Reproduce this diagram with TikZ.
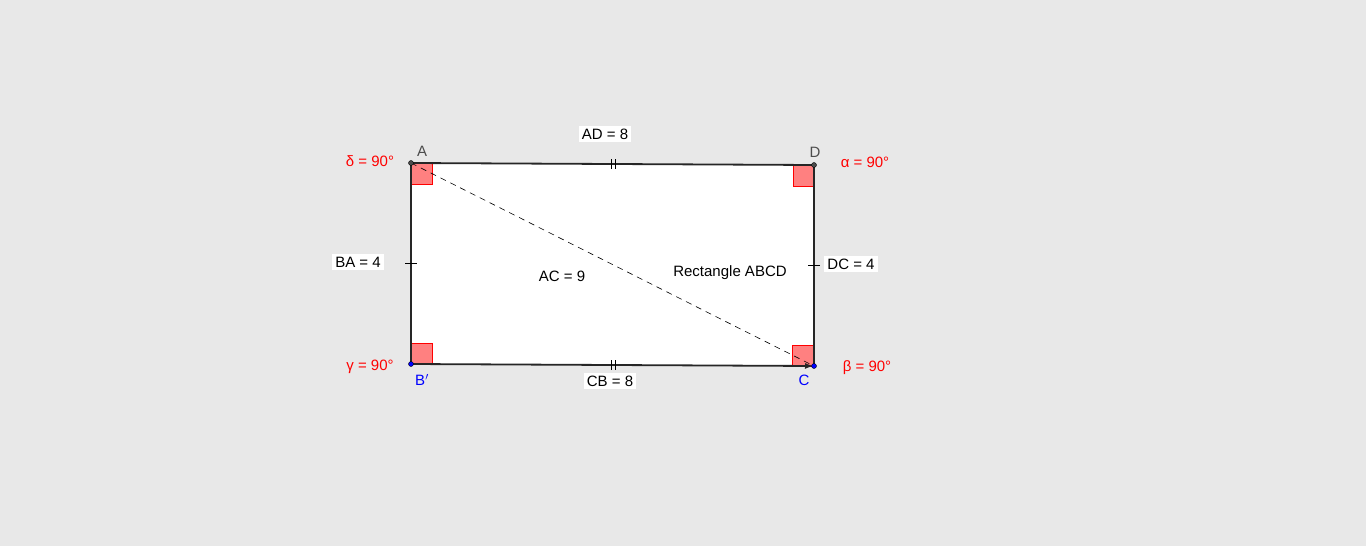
\documentclass[tikz,border=0pt]{standalone}
\usepackage{fontspec}
\setmainfont{Liberation Sans}
\usetikzlibrary{arrows.meta}
\definecolor{bg}{RGB}{232,232,232}
\definecolor{red1}{RGB}{255,0,0}
\definecolor{ang}{RGB}{255,128,128}
\tikzset{
 lab/.style={fill=white,inner sep=3pt,font=\fontsize{15}{18}\selectfont},
 angl/.style={text=red1,font=\fontsize{15}{18}\selectfont},
 pt/.style={font=\fontsize{15}{18}\selectfont},
 sq/.style={fill=ang,draw=red1,line width=0.6pt},
 side/.style={line width=1.8pt,draw=black!85},
 dot/.style={circle,inner sep=0pt,minimum size=5pt,draw=black,fill=#1}
}
\begin{document}
\begin{tikzpicture}[x=1pt,y=-1pt]
\useasboundingbox[fill=bg] (0,0) rectangle (1366,546);
\coordinate (A) at (411,163);
\coordinate (D) at (814,165);
\coordinate (C) at (814,366);
\coordinate (B) at (411,364);
\fill[white] (A)--(D)--(C)--(B)--cycle;
\fill[sq] (411,163) rectangle (432,184);
\fill[sq] (793,165) rectangle (813,186);
\fill[sq] (411,343) rectangle (432,364);
\fill[sq] (792,345) rectangle (813,366);
\draw[side] (A)--(D)--(C);
\draw[side] (A)--(B);
\draw[side,-{Latex[length=9pt,width=6pt]}] (B)--(C);
\draw[dashed,line width=0.6pt,dash pattern=on 6pt off 5pt] (A)--(C);
% ticks
\draw[line width=0.7pt] (611,159)--(611,169) (615,159)--(615,169);
\draw[line width=0.7pt] (611,360)--(611,370) (615,360)--(615,370);
\draw[line width=0.7pt] (405,263)--(417,263);
\draw[line width=0.7pt] (808,265)--(820,265);
\node[dot=black!70] (pA) at (A) {};
\node[dot=black!70] (pD) at (D) {};
\node[dot=blue] (pB) at (B) {};
\node[dot=blue] (pC) at (C) {};
\node[pt,text=black!70] (lA) at (422,151) {A};
\node[pt,text=black!70] (lD) at (815,152) {D};
\node[pt,text=blue] (lB) at (422,380) {B$'$};
\node[pt,text=blue] (lC) at (804,380) {C};
\node[lab] (ad) at (605,134) {AD = 8};
\node[lab] (cb) at (610,381) {CB = 8};
\node[lab] (ba) at (358,262) {BA = 4};
\node[lab] (dc) at (851,264) {DC = 4};
\node[pt] (ac) at (562,276) {AC = 9};
\node[pt] (rect) at (730,273) {Rectangle ABCD};
\node[angl] (del) at (370,161) {δ = 90°};
\node[angl] (alp) at (865,162) {α = 90°};
\node[angl] (gam) at (370,367) {γ = 90°};
\node[angl] (bet) at (867,368) {β = 90°};
\end{tikzpicture}
\end{document}
